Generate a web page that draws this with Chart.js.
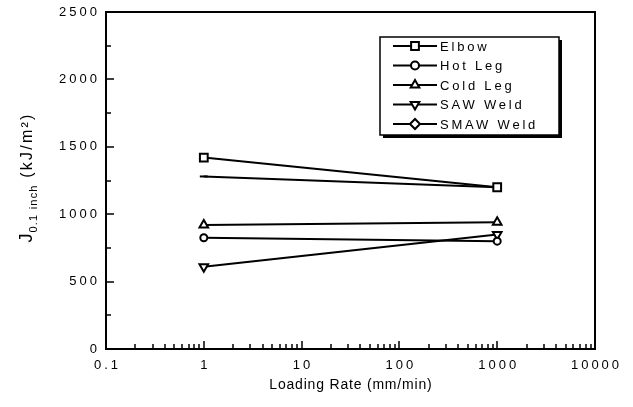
<!DOCTYPE html>
<html>
<head>
    <title>J 0.1 inch vs Loading Rate</title>
    <script src="https://cdn.jsdelivr.net/npm/chart.js"></script>
    <style>
        body { margin: 0; background: #fff; }
        #chart-container { width: 633px; height: 407px; }
    </style>
</head>
<body>
    <div id="chart-container">
        <canvas id="jChart" width="633" height="407"></canvas>
    </div>

    <script>
    // data
    const loadingRate = [1, 1000];
    const elbow    = [1420, 1200];
    const hotLeg   = [825, 800];
    const coldLeg  = [920, 940];
    const sawWeld  = [610, 850];
    const smawWeld = [1280, 1200];
    const seriesNames = ['Elbow', 'Hot Leg', 'Cold Leg', 'SAW Weld', 'SMAW Weld'];

    const xTicks = [0.1, 1, 10, 100, 1000, 10000];
    const xTickLabels = ['0.1', '1', '10', '100', '1000', '10000'];
    const yTicks = [0, 500, 1000, 1500, 2000, 2500];
    const yTickLabels = ['0', '500', '1000', '1500', '2000', '2500'];

    const FONT = "'Liberation Sans', Arial, sans-serif";

    function series(i, values, style, radius, rotation) {
        return {
            label: seriesNames[i],
            data: loadingRate.map((x, k) => ({ x: x, y: values[k] })),
            borderColor: '#000',
            borderWidth: 2,
            pointStyle: style,
            rotation: rotation || 0,
            pointRadius: radius,
            pointBackgroundColor: '#fff',
            pointBorderColor: '#000',
            pointBorderWidth: 2,
            tension: 0
        };
    }

    const legendStyles = [
        { pointStyle: 'rect', rotation: 0, radius: 5.5 },
        { pointStyle: 'circle', rotation: 0, radius: 4 },
        { pointStyle: 'triangle', rotation: 0, radius: 5 },
        { pointStyle: 'triangle', rotation: 180, radius: 5 },
        { pointStyle: 'rectRot', rotation: 0, radius: 5 }
    ];

    // width of a spaced string without the trailing letter spacing
    function spacedWidth(ctx, text, spacing) {
        return ctx.measureText(text).width - spacing;
    }

    // frame, inside ticks, labels, titles and the boxed legend
    const decorations = {
        id: 'decorations',
        afterDraw(chart) {
            const ctx = chart.ctx;
            const a = chart.chartArea;
            const xs = chart.scales.x, ys = chart.scales.y;
            ctx.save();
            ctx.strokeStyle = '#000';
            ctx.fillStyle = '#000';

            // ticks
            ctx.lineWidth = 1.5;
            ctx.beginPath();
            for (let d = 0.1; d < 10000; d *= 10) {
                for (let m = 1; m < 10; m++) {
                    const v = d * m;
                    const px = Math.round(xs.getPixelForValue(v));
                    const len = m === 1 ? 8 : 5;
                    ctx.moveTo(px, a.bottom);
                    ctx.lineTo(px, a.bottom - len);
                }
            }
            for (let v = 0; v <= 2500; v += 250) {
                const py = Math.round(ys.getPixelForValue(v));
                const len = v % 500 === 0 ? 8 : 5;
                ctx.moveTo(a.left, py);
                ctx.lineTo(a.left + len, py);
            }
            ctx.stroke();

            // frame
            ctx.lineWidth = 2;
            ctx.strokeRect(a.left, a.top, a.right - a.left, a.bottom - a.top);

            // tick labels
            ctx.font = '13px ' + FONT;
            ctx.letterSpacing = '3px';
            ctx.textBaseline = 'middle';
            ctx.textAlign = 'left';
            xTicks.forEach((v, i) => {
                const w = spacedWidth(ctx, xTickLabels[i], 3);
                ctx.fillText(xTickLabels[i], xs.getPixelForValue(v) - w / 2, a.bottom + 16);
            });
            yTicks.forEach((v, i) => {
                const w = spacedWidth(ctx, yTickLabels[i], 3);
                ctx.fillText(yTickLabels[i], a.left - 9 - w, ys.getPixelForValue(v));
            });

            // x title
            ctx.font = '14px ' + FONT;
            ctx.letterSpacing = '0.8px';
            const xt = 'Loading Rate (mm/min)';
            const xw = spacedWidth(ctx, xt, 0.8);
            ctx.textBaseline = 'alphabetic';
            ctx.fillText(xt, (a.left + a.right) / 2 - xw / 2, 389);

            // y title with subscript
            ctx.save();
            ctx.translate(32, 178);
            ctx.rotate(-Math.PI / 2);
            const p1 = 'J', p2 = '0.1 inch', p3 = ' (kJ/m²)';
            ctx.letterSpacing = '0px';
            ctx.font = '18px ' + FONT;
            const w1 = ctx.measureText(p1).width;
            ctx.letterSpacing = '1.2px';
            ctx.font = '11px ' + FONT;
            const w2 = ctx.measureText(p2).width;
            ctx.letterSpacing = '2.2px';
            ctx.font = '16px ' + FONT;
            const w3 = ctx.measureText(p3).width;
            let x0 = -(w1 + w2 + w3) / 2;
            ctx.letterSpacing = '0px';
            ctx.font = '18px ' + FONT;
            ctx.fillText(p1, x0, 0);
            x0 += w1 + 1;
            ctx.letterSpacing = '1.2px';
            ctx.font = '11px ' + FONT;
            ctx.fillText(p2, x0, 5);
            x0 += w2;
            ctx.letterSpacing = '2.2px';
            ctx.font = '16px ' + FONT;
            ctx.fillText(p3, x0, 0);
            ctx.restore();

            // legend box with drop shadow
            const bx = 380, by = 37, bw = 179, bh = 98;
            ctx.fillStyle = '#000';
            ctx.fillRect(bx + 3, by + 3, bw, bh);
            ctx.fillStyle = '#fff';
            ctx.fillRect(bx, by, bw, bh);
            ctx.lineWidth = 1.5;
            ctx.strokeStyle = '#000';
            ctx.strokeRect(bx, by, bw, bh);

            ctx.font = '13px ' + FONT;
            ctx.letterSpacing = '2.8px';
            ctx.textAlign = 'left';
            ctx.textBaseline = 'middle';
            seriesNames.forEach((name, i) => {
                const ry = 46 + i * 19.5;
                ctx.strokeStyle = '#000';
                ctx.lineWidth = 2;
                ctx.beginPath();
                ctx.moveTo(393, ry);
                ctx.lineTo(437, ry);
                ctx.stroke();
                ctx.fillStyle = '#fff';
                Chart.helpers.drawPoint(ctx, {
                    pointStyle: legendStyles[i].pointStyle,
                    rotation: legendStyles[i].rotation,
                    radius: legendStyles[i].radius,
                    borderWidth: 2
                }, 415, ry);
                ctx.fillStyle = '#000';
                ctx.fillText(name, 440, ry + 1);
            });
            ctx.restore();
        }
    };

    function createChart() {
        const canvas = document.getElementById('jChart');
        new Chart(canvas, {
            type: 'line',
            data: {
                datasets: [
                    series(0, elbow, 'rect', 5.5),
                    series(1, hotLeg, 'circle', 3.5),
                    series(2, coldLeg, 'triangle', 5),
                    series(3, sawWeld, 'triangle', 5, 180),
                    series(4, smawWeld, 'line', 4)
                ]
            },
            options: {
                responsive: false,
                animation: false,
                devicePixelRatio: 1,
                layout: { padding: { left: 0, right: 38, top: 12, bottom: 0 } },
                plugins: { legend: { display: false }, tooltip: { enabled: false } },
                scales: {
                    x: {
                        type: 'logarithmic',
                        min: 0.1,
                        max: 10000,
                        ticks: { display: false },
                        grid: { display: false },
                        border: { display: false },
                        afterFit: s => { s.height = 58; }
                    },
                    y: {
                        min: 0,
                        max: 2500,
                        ticks: { display: false },
                        grid: { display: false },
                        border: { display: false },
                        afterFit: s => { s.width = 106; }
                    }
                }
            },
            plugins: [decorations]
        });
    }

    window.onload = () => {
        createChart();
    };
    </script>
</body>
</html>
